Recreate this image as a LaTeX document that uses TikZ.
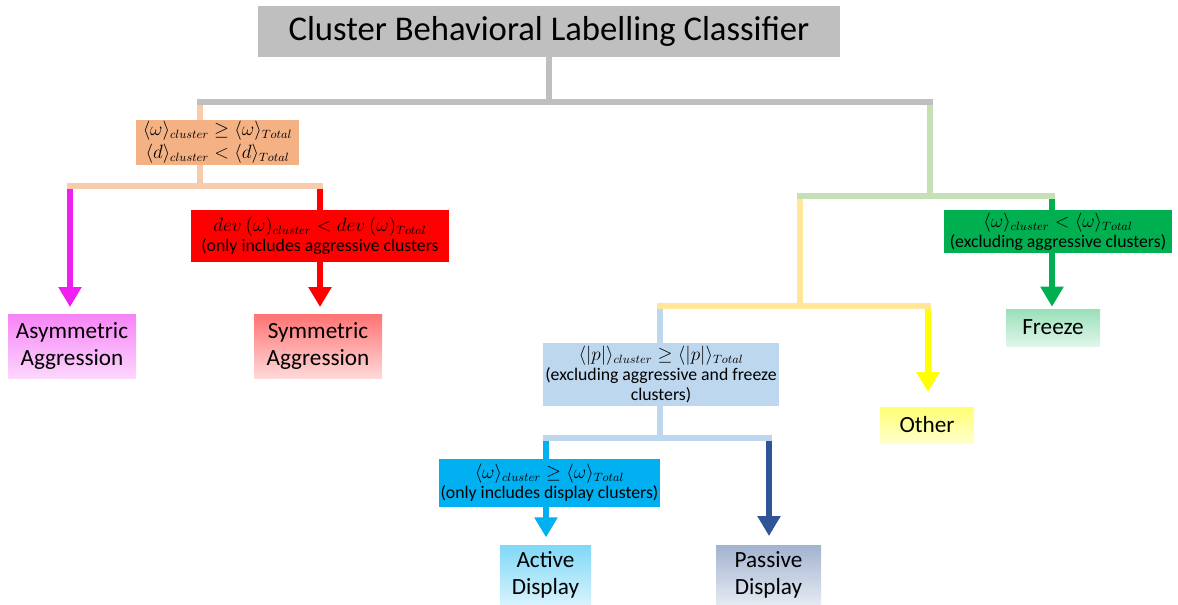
\documentclass[tikz,border=0pt]{standalone}
\usepackage{fontspec}
\setmainfont{Carlito}
\usetikzlibrary{arrows.meta}
\definecolor{cgray}{HTML}{BFBFBF}
\definecolor{corange}{HTML}{F4B183}
\definecolor{clorange}{HTML}{F8CBAD}
\definecolor{cred}{HTML}{FF0000}
\definecolor{cmag}{HTML}{F01EF0}
\definecolor{cgreen}{HTML}{00B050}
\definecolor{clgreen}{HTML}{C5E0B4}
\definecolor{clyellow}{HTML}{FFE699}
\definecolor{cyellow}{HTML}{FFFF00}
\definecolor{clblue}{HTML}{BDD7EE}
\definecolor{ccyan}{HTML}{00B0F0}
\definecolor{cdblue}{HTML}{2F5597}
\tikzset{
  box/.style={inner sep=0pt, align=center, text=black},
  cond/.style={box, font=\fontsize{13.3}{15}\selectfont},
  leaf/.style={box, font=\fontsize{17.4}{20.3}\selectfont},
  conn/.style={line width=4.5pt},
  arr/.style={line width=4.5pt, -{Triangle[width=16.5pt,length=15pt]}},
}
\begin{document}
\begin{tikzpicture}[x=0.75pt,y=-0.75pt]
\useasboundingbox (0,0) rectangle (1178,604);
% nodes
\node[box, fill=cgray, minimum width=436.5pt, minimum height=38.25pt, font=\fontsize{26}{30}\selectfont]
  (title) at (549,31.5) {Cluster Behavioral Labelling Classifier};
\node[cond, fill=corange, minimum width=122.25pt, minimum height=33.75pt]
  (orange) at (217.5,142.5) {$\langle\omega\rangle_{cluster} \geq \langle\omega\rangle_{Total}$\\[2pt]$\langle d\rangle_{cluster} < \langle d\rangle_{Total}$};
\node[cond, fill=cred, minimum width=193.5pt, minimum height=39pt]
  (red) at (320,236) {$dev\ (\omega)_{cluster} < dev\ (\omega)_{Total}$\\(only includes aggressive clusters};
\node[leaf, top color=cmag!55, bottom color=cmag!18, minimum width=96pt, minimum height=48pt]
  (asym) at (72,346) {Asymmetric\\Aggression};
\node[leaf, top color=cred!55, bottom color=cred!15, minimum width=96pt, minimum height=48pt]
  (sym) at (318,346) {Symmetric\\Aggression};
\node[cond, fill=cgreen, minimum width=171pt, minimum height=32.25pt]
  (green) at (1058,231.5) {$\langle\omega\rangle_{cluster} < \langle\omega\rangle_{Total}$\\(excluding aggressive clusters)};
\node[leaf, top color=cgreen!40, bottom color=cgreen!12, minimum width=70.5pt, minimum height=27.75pt]
  (freeze) at (1053,327.5) {Freeze};
\node[leaf, top color=cyellow!55, bottom color=cyellow!20, minimum width=70.5pt, minimum height=27pt]
  (other) at (927,425) {Other};
\node[cond, fill=clblue, minimum width=177pt, minimum height=47.25pt]
  (lblue) at (661,374.5) {$\langle|p|\rangle_{cluster} \geq \langle|p|\rangle_{Total}$\\(excluding aggressive and freeze\\clusters)};
\node[cond, fill=ccyan, minimum width=165.75pt, minimum height=36pt]
  (cyan) at (549.5,483) {$\langle\omega\rangle_{cluster} \geq \langle\omega\rangle_{Total}$\\(only includes display clusters)};
\node[leaf, top color=ccyan!50, bottom color=ccyan!15, minimum width=68.25pt, minimum height=45pt]
  (active) at (545.5,575) {Active\\Display};
\node[leaf, top color=cdblue!45, bottom color=cdblue!12, minimum width=78.75pt, minimum height=45pt]
  (passive) at (768.5,575) {Passive\\Display};
% junction coordinates
\coordinate (j0) at (549,102);
\coordinate (jL) at (200,102);
\coordinate (jR) at (930,102);
\coordinate (o1) at (200,186);
\coordinate (oL) at (70,186);
\coordinate (oR) at (320,186);
\coordinate (g1) at (930,196);
\coordinate (gL) at (800,196);
\coordinate (gR) at (1052,196);
\coordinate (y1) at (800,306);
\coordinate (yL) at (660,306);
\coordinate (yR) at (928,306);
\coordinate (b1) at (660,438);
\coordinate (bL) at (546,438);
\coordinate (bR) at (769,438);
% connectors
\draw[conn, cgray] (title.south) -- (j0);
\draw[conn, cgray] ([xshift=-2pt]jL) -- ([xshift=2pt]jR);
\draw[conn, clorange] ([yshift=-2pt]jL) -- (jL |- orange.north);
\draw[conn, clorange] (jL |- orange.south) -- (o1);
\draw[conn, clorange] ([xshift=-2pt]oL) -- ([xshift=2pt]oR);
\draw[arr, cmag] ([yshift=-2pt]oL) -- ([yshift=5pt]oL |- asym.north);
\draw[conn, cred] ([yshift=-2pt]oR) -- (oR |- red.north);
\draw[arr, cred] (oR |- red.south) -- ([yshift=5pt]oR |- sym.north);
\draw[conn, clgreen] ([yshift=-2pt]jR) -- (g1);
\draw[conn, clgreen] ([xshift=-2pt]gL) -- ([xshift=2pt]gR);
\draw[conn, cgreen] ([yshift=-2pt]gR) -- (gR |- green.north);
\draw[arr, cgreen] (gR |- green.south) -- ([yshift=1.5pt]gR |- freeze.north);
\draw[conn, clyellow] ([yshift=-2pt]gL) -- (y1);
\draw[conn, clyellow] ([xshift=-2pt]yL) -- ([xshift=2pt]yR);
\draw[arr, cyellow] ([yshift=-2pt]yR) -- ([yshift=11pt]yR |- other.north);
\draw[conn, clblue] ([yshift=-2pt]yL) -- (yL |- lblue.north);
\draw[conn, clblue] (yL |- lblue.south) -- (b1);
\draw[conn, clblue] ([xshift=-2pt]bL) -- ([xshift=2pt]bR);
\draw[conn, ccyan] ([yshift=-2pt]bL) -- (bL |- cyan.north);
\draw[arr, ccyan] (bL |- cyan.south) -- ([yshift=5.5pt]bL |- active.north);
\draw[arr, cdblue] ([yshift=-2pt]bR) -- ([yshift=6.5pt]bR |- passive.north);
\end{tikzpicture}
\end{document}
